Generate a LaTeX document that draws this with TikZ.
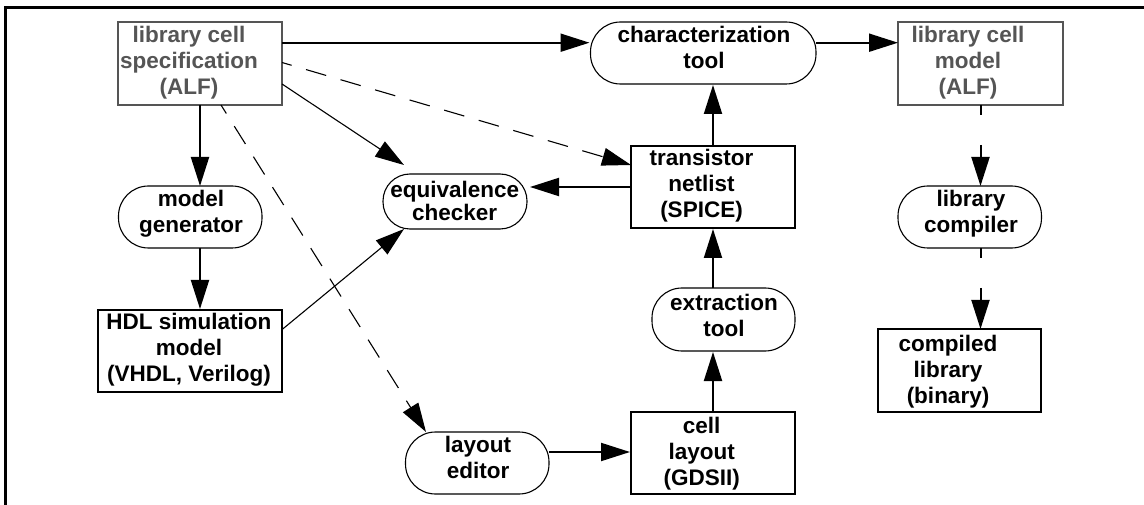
\documentclass[tikz,border=0pt]{standalone}
\usepackage{fontspec}
\setmainfont{Liberation Sans}
\usetikzlibrary{arrows.meta}
\definecolor{specgray}{HTML}{555555}
\newcommand{\lns}[1]{\begin{tabular}[t]{@{}c@{}}#1\end{tabular}}
\tikzset{
  every node/.style={inner sep=0pt,outer sep=0pt},
  boxk/.style={draw=black,line width=2pt,rectangle},
  boxg/.style={draw=specgray,line width=2pt,rectangle},
  pill/.style={draw=black,line width=1.1pt,rectangle,rounded corners=30pt,minimum height=62pt},
  lbl/.style={anchor=base,font=\fontsize{22.5pt}{26pt}\selectfont\bfseries},
  lblg/.style={lbl,text=specgray},
  head/.style={-{Triangle[length=29pt,width=18pt]}},
  thickc/.style={head,line width=2pt},
  thinc/.style={head,line width=1.1pt},
  dashc/.style={head,line width=1.1pt,dash pattern=on 21pt off 15pt,dash phase=11pt},
}
\begin{document}
\begin{tikzpicture}[x=1pt,y=-1pt]
\useasboundingbox (0,0) rectangle (1144,505);
\draw[line width=3pt] (5.5,505) -- (5.5,7.2) -- (1144,7.2);
% boxes
\node[boxg,minimum width=164pt,minimum height=83pt] (spec) at (200,63.5) {};
\node[pill,minimum width=225.5pt] (char) at (703.25,53) {};
\node[boxg,minimum width=165pt,minimum height=83pt] (mbox) at (980.5,63.5) {};
\node[pill,minimum width=143.5pt] (gen) at (190.25,217) {};
\node[pill,minimum width=144pt,minimum height=55pt,rounded corners=27pt] (equiv) at (455,201.5) {};
\node[boxk,minimum width=164pt,minimum height=82pt] (trans) at (713,187) {};
\node[pill,minimum width=143.5pt] (libc) at (969.75,217) {};
\node[boxk,minimum width=183.5pt,minimum height=82pt] (hdl) at (189.75,351) {};
\node[pill,minimum width=143pt,minimum height=63pt] (extr) at (723.5,319.5) {};
\node[boxk,minimum width=163pt,minimum height=83pt] (comp) at (959.5,370.5) {};
\node[pill,minimum width=143.5pt] (layout) at (477.25,463) {};
\node[boxk,minimum width=164pt,minimum height=82pt] (cell) at (713,453) {};
% labels
\node[lblg] (specT) at (189,42.7) {\lns{library cell\\specification\\(ALF)}};
\node[lbl] (charT) at (704,42.5) {\lns{characterization\\tool}};
\node[lblg] (mboxT) at (968,42.7) {\lns{library cell\\model\\(ALF)}};
\node[lbl] (genT) at (191,207) {\lns{model\\generator}};
\node[lbl,font=\fontsize{22.5pt}{21pt}\selectfont\bfseries] (equivT) at (454.7,198) {\lns{equivalence\\checker}};
\node[lbl] (transT) at (701.5,165.7) {\lns{transistor\\netlist\\(SPICE)}};
\node[lbl] (libcT) at (971,207) {\lns{library\\compiler}};
\node[lbl] (hdlT) at (189,330) {\lns{HDL simulation\\model\\(VHDL, Verilog)}};
\node[lbl] (extrT) at (724,310) {\lns{extraction\\tool}};
\node[lbl] (compT) at (948,351) {\lns{compiled\\library\\(binary)}};
\node[lbl] (layoutT) at (478,452.7) {\lns{layout\\editor}};
\node[lbl] (cellT) at (701.7,433) {\lns{cell\\layout\\(GDSII)}};
% anchor coordinates for off-centre connector ends
\coordinate (charIn) at ([shift={(-1pt,10.3pt)}]char.west);
\coordinate (cellIn) at ([shift={(-1pt,1pt)}]cell.west);
% connectors
\draw[thickc] (charIn -| spec.east) -- (charIn);
\draw[thickc] (charIn -| char.east) -- (charIn -| mbox.west);
\draw[thickc] (spec.south) -- (spec.south |- gen.north);
\draw[thickc] (spec.south |- gen.south) -- ([yshift=1pt]spec.south |- hdl.north);
\draw[thinc] ([yshift=-20.5pt]spec.east) -- ([shift={(21pt,9pt)}]equiv.north west);
\draw[thinc] ([yshift=-20pt]hdl.north east) -- ([xshift=21pt]equiv.south west);
\draw[dashc] ([yshift=1pt]spec.east) -- ([yshift=-19pt]trans.north west);
\draw[dashc] ([xshift=21pt]spec.south) -- ([xshift=20.5pt]layout.north west);
\draw[thickc,shorten >=3pt] (trans.west) -- (trans.west -| equiv.east);
\draw[thickc] (trans.north) -- ([yshift=-1pt]trans.north |- char.south);
\draw[thickc] (extr.north -| trans.north) -- ([yshift=-1pt]trans.south);
\draw[thickc] (cell.north) -- ([yshift=-1pt]cell.north |- extr.south);
\draw[thickc] (cellIn -| layout.east) -- (cellIn);
\draw[thickc,dash pattern=on 10pt off 30pt on 60pt] (mbox.south) -- (mbox.south |- libc.north);
\draw[thickc,dash pattern=on 10pt off 30pt on 60pt] (mbox.south |- libc.south) -- (mbox.south |- comp.north);
\end{tikzpicture}
\end{document}
